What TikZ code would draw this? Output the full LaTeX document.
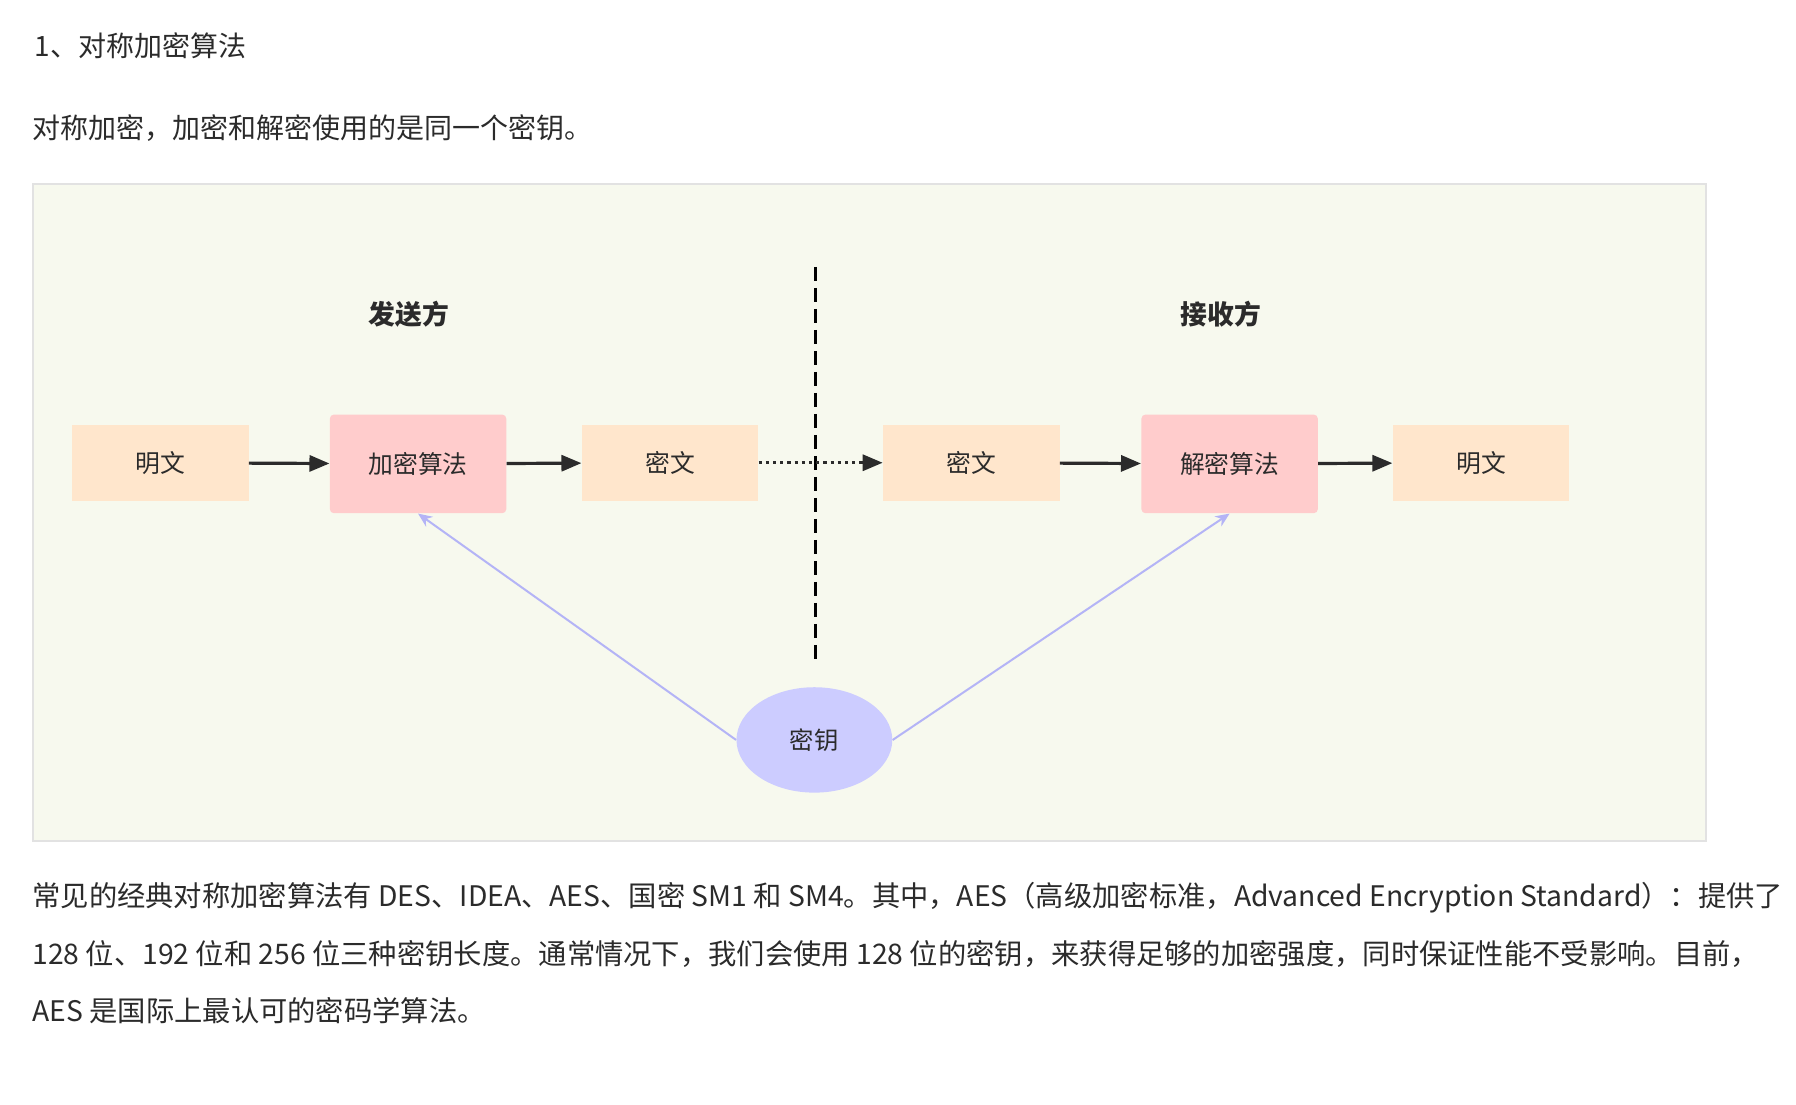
\documentclass[tikz,border=0pt]{standalone}
\usepackage{fontspec}
\setmainfont{Noto Sans CJK SC}
\usepackage{tikz}
\usetikzlibrary{arrows.meta,positioning,shapes.geometric}
\definecolor{panelbg}{HTML}{F7F9EE}
\definecolor{panelline}{HTML}{E2E2E2}
\definecolor{plainfill}{HTML}{FFE6CC}
\definecolor{algofill}{HTML}{FFCCCC}
\definecolor{keyfill}{HTML}{CCCCFF}
\definecolor{keyline}{HTML}{B4B4F6}
\definecolor{inktext}{HTML}{2B2B2B}

\begin{document}
\begin{tikzpicture}[
    x=0.5727pt, y=-0.5727pt,
    nosep/.style={inner sep=0},
    para/.style={anchor=west, nosep, text=inktext, font=\fontsize{14pt}{16pt}\selectfont},
    bodytext/.style={para, font=\fontsize{14.15pt}{16pt}\selectfont},
    side/.style={nosep, text=inktext, font=\fontsize{13.4pt}{16pt}\selectfont\bfseries},
    msgbox/.style={rectangle, fill=plainfill, minimum width=88.2pt, minimum height=37.8pt, text=inktext, font=\fontsize{12.4pt}{15pt}\selectfont},
    algobox/.style={msgbox, fill=algofill, rounded corners=2pt, minimum height=49.3pt},
    keynode/.style={ellipse, nosep, fill=keyfill, minimum width=77.9pt, minimum height=52.7pt, text=inktext, font=\fontsize{12.2pt}{15pt}\selectfont},
    flow/.style={draw=inktext, line width=1.6pt, -{Triangle[length=10pt,width=8pt]}},
    handover/.style={flow, dotted},
    keyuse/.style={draw=keyline, line width=1pt, -{Stealth[length=7pt,width=6pt]}},
    cut/.style={draw=black, line width=1.6pt, dash pattern=on 7pt off 3.5pt}]
\useasboundingbox (0,0) rectangle (1568,964);
\path[fill=white] (0,0) rectangle (1568,964);
\path[fill=panelbg, draw=panelline, line width=1pt] (29,161) rectangle (1489,734);

\node[para] (title) at (30,40) {1、对称加密算法};
\node[para] (intro) at (28,112) {对称加密，加密和解密使用的是同一个密钥。};

\node[side] (sender) at (357,274) {发送方};
\node[side] (receiver) at (1066,274) {接收方};

\node[msgbox] (plainL) at (140,404) {明文};
\node[algobox] (enc) at (365,405) {加密算法};
\node[msgbox] (cipherL) at (585,404) {密文};
\node[msgbox] (cipherR) at (848,404) {密文};
\node[algobox] (dec) at (1073.5,405) {解密算法};
\node[msgbox] (plainR) at (1293,404) {明文};
\node[keynode] (key) at (711,646) {密钥};

\coordinate (cutTop) at (712,233);
\coordinate (cutBot) at (712,575);
\path[cut] (cutTop) -- (cutBot);

\path[flow] (plainL) -- (enc);
\path[flow] (enc) -- (cipherL);
\path[handover] (cipherL) -- (cipherR);
\path[flow] (cipherR) -- (dec);
\path[flow] (dec) -- (plainR);
\path[keyuse] (key.west) -- (enc.south);
\path[keyuse] (key.east) -- (dec.south);

\node[bodytext] (body1) at (28,784) {常见的经典对称加密算法有 DES、IDEA、AES、国密 SM1 和 SM4。其中，AES（高级加密标准，Advanced Encryption Standard）：提供了};
\node[bodytext] (body2) at (28,833) {128 位、192 位和 256 位三种密钥长度。通常情况下，我们会使用 128 位的密钥，来获得足够的加密强度，同时保证性能不受影响。目前，};
\node[bodytext] (body3) at (28,882) {AES 是国际上最认可的密码学算法。};

\end{tikzpicture}
\end{document}
